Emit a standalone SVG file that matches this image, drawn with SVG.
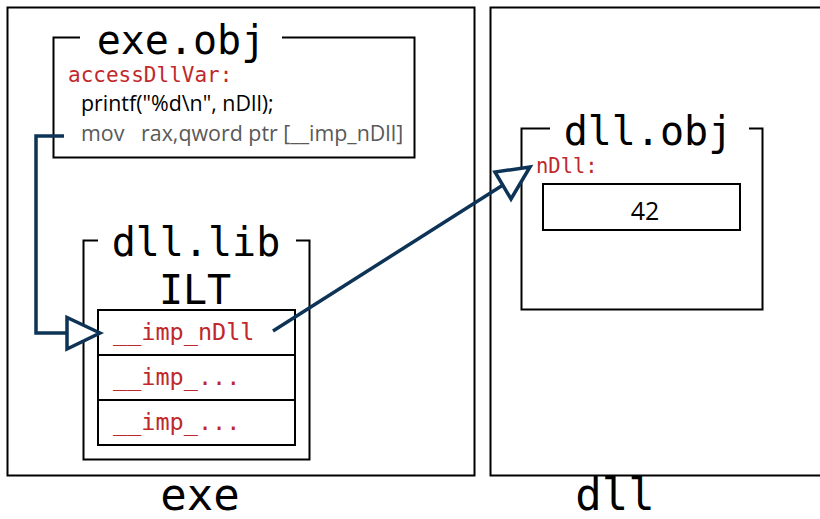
<svg xmlns="http://www.w3.org/2000/svg" width="820" height="519" viewBox="0 0 820 519">
<style>
.box{fill:none;stroke:#000;stroke-width:2}
.mono{font-family:"DejaVu Sans Mono",monospace;fill:#000}
.title{font-size:40px}
.big{font-size:44px}
.red{fill:#c0282b}
.sans{font-family:"Open Sans","Liberation Sans",sans-serif;font-size:21.4px;fill:#000}
.gray{fill:#595959}
.conn{fill:none;stroke:#0d3456;stroke-width:3.5}
.head{fill:#fff;stroke:#0d3456;stroke-width:3.5;stroke-linejoin:miter}
</style>
<rect width="820" height="519" fill="#fff"/>
<g id="exe">
<rect class="box" x="7.5" y="7.5" width="467" height="468"/>
<text class="mono big" x="200" y="510" text-anchor="middle">exe</text>
</g>
<g id="dll">
<path class="box" d="M822 7.5H490.5V475.5H822"/>
<text class="mono big" x="615" y="510" text-anchor="middle">dll</text>
</g>
<g id="exe-obj">
<path class="box" d="M80 37.5H53.5V157.5H414.5V37.5H282"/>
<text class="mono title" x="181" y="54" text-anchor="middle">exe.obj</text>
<text class="mono red" x="68" y="82" font-size="21">accessDllVar:</text>
<text class="sans" x="81" y="111">printf("%d\n", nDll);</text>
<text class="sans gray" x="81" y="141" xml:space="preserve">mov   rax,qword ptr [__imp_nDll]</text>
</g>
<g id="dll-lib">
<path class="box" d="M98 240.5H83.5V459.5H309.5V240.5H296"/>
<text class="mono title" x="196" y="256" text-anchor="middle">dll.lib</text>
<text class="mono title" x="195" y="304" text-anchor="middle">ILT</text>
</g>
<g id="ilt">
<rect class="box" x="98" y="310" width="197" height="135"/>
<line class="box" x1="98" y1="355" x2="295" y2="355"/>
<line class="box" x1="98" y1="400" x2="295" y2="400"/>
<text class="mono red" x="113" y="340" font-size="23.5">__imp_nDll</text>
<text class="mono red" x="113" y="385" font-size="23.5">__imp_...</text>
<text class="mono red" x="113" y="430" font-size="23.5">__imp_...</text>
</g>
<g id="dll-obj">
<path class="box" d="M550 128.5H521.5V309.5H762.5V128.5H749"/>
<text class="mono title" x="648" y="145" text-anchor="middle">dll.obj</text>
<text class="mono red" x="536" y="173" font-size="20.5">nDll:</text>
<rect class="box" x="543" y="184" width="197" height="46"/>
<text class="sans" x="645" y="220" text-anchor="middle" style="font-size:25px">42</text>
</g>
<g id="connectors">
<polyline class="conn" points="64,136 36,136 36,333 66,333"/>
<polygon class="head" points="100,333 67,317.5 67,349"/>
<line class="conn" x1="273" y1="331" x2="503" y2="185"/>
<polygon class="head" points="530,167 495,172 511,199"/>
</g>
</svg>
